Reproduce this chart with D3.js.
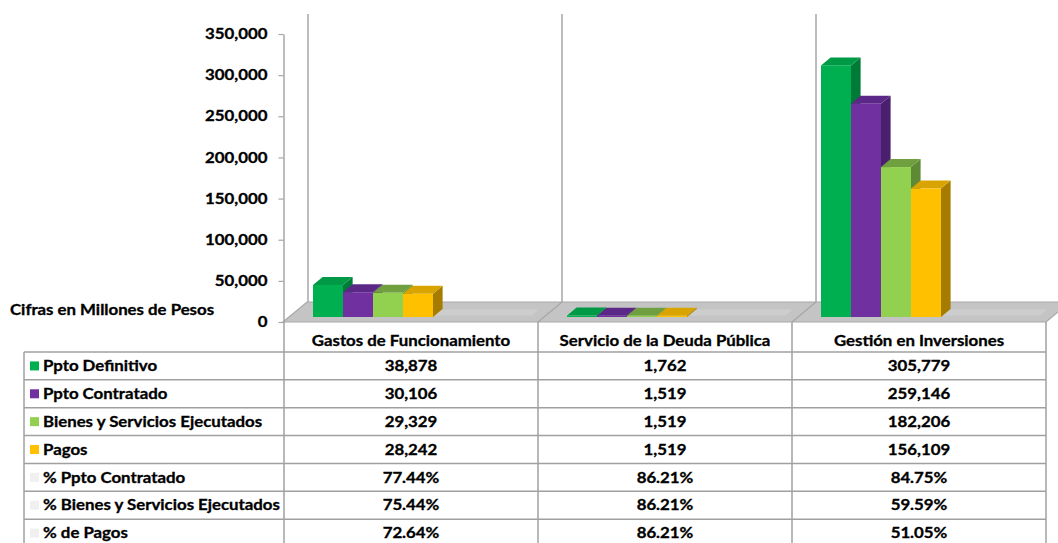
<!DOCTYPE html>
<html>
<head>
<meta charset="utf-8">
<script src="https://cdn.jsdelivr.net/npm/d3@7"></script>
<style>
  html, body { margin: 0; padding: 0; background: #ffffff; }
  svg { display: block; }
  text { font-family: Lato, "Open Sans", sans-serif; font-weight: bold; fill: #000; stroke: #000; stroke-width: 0.3px; }
</style>
</head>
<body>
<svg id="chart" width="1058" height="543"></svg>
<script>
// Categories and series
const categories = ["Gastos de Funcionamiento", "Servicio de la Deuda Pública", "Gestión en Inversiones"];
const seriesNames = ["Ppto Definitivo", "Ppto Contratado", "Bienes y Servicios Ejecutados", "Pagos"];
const pptoDefinitivo = [38878, 1762, 305779];
const pptoContratado = [30106, 1519, 259146];
const bienesEjecutados = [29329, 1519, 182206];
const pagos = [28242, 1519, 156109];
const pctNames = ["% Ppto Contratado", "% Bienes y Servicios Ejecutados", "% de Pagos"];
const pctContratado = [77.44, 86.21, 84.75];
const pctEjecutados = [75.44, 86.21, 59.59];
const pctPagos = [72.64, 86.21, 51.05];
const yTicks = [0, 50000, 100000, 150000, 200000, 250000, 300000, 350000];
const axisTitle = "Cifras en Millones de Pesos";

const seriesValues = [pptoDefinitivo, pptoContratado, bienesEjecutados, pagos];
const pctValues = [pctContratado, pctEjecutados, pctPagos];

// Face colours per series: front, top, side
const palette = [
  { front: "#00b050", top: "#009a46", side: "#007a37" },
  { front: "#7030a0", top: "#5c2888", side: "#4a1f6e" },
  { front: "#92d050", top: "#6f9f3f", side: "#5e8a36" },
  { front: "#ffc000", top: "#d9a400", side: "#a57c00" }
];

const SX = 1.16;            // horizontal text stretch
const FS = "14.5px";
const DX = 24, DY = 20;     // depth projection of the 3D box
const D0 = 0.25, D1 = 0.65; // bar depth span inside the box

const svg = d3.select("#chart");

const x = d3.scaleBand().domain(categories).range([284, 1046]).paddingInner(0).paddingOuter(0);
const xs = d3.scaleBand().domain(seriesNames).range([23, 143]);
const y = d3.scaleLinear().domain([0, 350000]).range([322, 34]);

const proj = (px, v, d) => [px + DX * d, y(v) - DY * d];
const poly = pts => pts.map(p => p.join(",")).join(" ");

function label(parent, px, py, str, anchor) {
  return parent.append("text")
    .attr("transform", `translate(${px},${py}) scale(${SX},1)`)
    .attr("text-anchor", anchor)
    .attr("dy", "0.36em")
    .style("font-size", FS)
    .text(str);
}

const gridColor = "#a6a6a6";
const x0 = x.range()[0], x1 = x.range()[1];

// Back wall category lines
const backLines = categories.map(c => x(c)).concat([x1]);
svg.append("g").selectAll("line").data(backLines).join("line")
  .attr("x1", d => proj(d, 0, 1)[0]).attr("x2", d => proj(d, 0, 1)[0])
  .attr("y1", proj(0, 350000, 1)[1]).attr("y2", proj(0, 0, 1)[1])
  .attr("stroke", gridColor).attr("stroke-width", 1.5);

// Floor slab
const floor = svg.append("g");
floor.append("polygon")
  .attr("points", poly([proj(x0 - 1, 0, 0), proj(x1, 0, 0), proj(x1, 0, 1), proj(x0 - 1, 0, 1)]))
  .attr("fill", "#c4c4c4").attr("stroke", "#a8a8a8").attr("stroke-width", 1.2);
floor.selectAll("polygon.strip").data(categories).join("polygon")
  .attr("class", "strip")
  .attr("points", c => poly([
    proj(x(c) + 20, 0, 0.32), proj(x(c) + 240, 0, 0.32),
    proj(x(c) + 240, 0, 0.62), proj(x(c) + 20, 0, 0.62)]))
  .attr("fill", "#cdcdcd");
floor.selectAll("line.div").data(categories.slice(1)).join("line")
  .attr("class", "div")
  .attr("x1", c => proj(x(c), 0, 0)[0]).attr("y1", c => proj(x(c), 0, 0)[1])
  .attr("x2", c => proj(x(c), 0, 1)[0]).attr("y2", c => proj(x(c), 0, 1)[1])
  .attr("stroke", gridColor).attr("stroke-width", 1.2);

// Bars, left to right so each front face covers the previous side face
const bars = svg.append("g");
categories.forEach((c, ci) => {
  seriesNames.forEach((s, si) => {
    const v = seriesValues[si][ci];
    const left = x(c) + xs(s), right = left + xs.bandwidth();
    const col = palette[si];
    const g = bars.append("g");
    g.append("polygon")
      .attr("points", poly([proj(right, 0, D0), proj(right, 0, D1), proj(right, v, D1), proj(right, v, D0)]))
      .attr("fill", col.side);
    g.append("polygon")
      .attr("points", poly([proj(left, v, D0), proj(right, v, D0), proj(right, v, D1), proj(left, v, D1)]))
      .attr("fill", col.top);
    const f0 = proj(left, v, D0), f1 = proj(right, 0, D0);
    g.append("rect")
      .attr("x", f0[0]).attr("y", f0[1])
      .attr("width", f1[0] - f0[0]).attr("height", f1[1] - f0[1])
      .attr("fill", col.front);
  });
});

// Value axis
const axis = svg.append("g")
  .attr("transform", `translate(${x0 - 0.5},0)`)
  .call(d3.axisLeft(y).tickValues(yTicks).tickFormat(d3.format(",")).tickSize(5).tickSizeOuter(0));
axis.select(".domain").attr("stroke", gridColor).attr("stroke-width", 1.5);
axis.selectAll(".tick line").attr("stroke", gridColor).attr("stroke-width", 1.2);
axis.selectAll(".tick text")
  .attr("x", -16 / SX)
  .attr("transform", `scale(${SX},1)`)
  .style("font-size", FS)
  .style("font-family", "Lato, sans-serif")
  .style("font-weight", "bold")
  .attr("fill", "#000");

label(svg, 10, 310, axisTitle, "start");

// Data table
const rowNames = seriesNames.concat(pctNames);
const rowY = d3.scaleBand().domain(rowNames).range([352, 547]);
const table = svg.append("g");
const tColor = "#a0a0a0";

// header labels
categories.forEach(c => label(table, x(c) + x.bandwidth() / 2, 341, c, "middle"));

// horizontal rules
const hRules = rowNames.map(r => rowY(r)).concat([rowY.range()[1]]);
table.selectAll("line.h").data(hRules).join("line")
  .attr("class", "h")
  .attr("x1", 24).attr("x2", x1).attr("y1", d => d).attr("y2", d => d)
  .attr("stroke", tColor).attr("stroke-width", 1.5);
// vertical rules
table.append("line").attr("x1", 24).attr("x2", 24).attr("y1", 352).attr("y2", 547)
  .attr("stroke", tColor).attr("stroke-width", 1.5);
table.selectAll("line.v").data(categories.map(c => x(c)).concat([x1])).join("line")
  .attr("class", "v")
  .attr("x1", d => d).attr("x2", d => d).attr("y1", 322).attr("y2", 547)
  .attr("stroke", tColor).attr("stroke-width", 1.5);

// row labels with legend keys
rowNames.forEach((r, ri) => {
  const cy = rowY(r) + rowY.bandwidth() / 2;
  table.append("rect")
    .attr("x", 30).attr("y", cy - 4.5).attr("width", 9).attr("height", 9)
    .attr("fill", ri < 4 ? palette[ri].front : "#f0f0f0");
  label(table, 43, cy, r, "start");
  const vals = ri < 4 ? seriesValues[ri] : pctValues[ri - 4];
  const fmt = ri < 4 ? d3.format(",") : (v => d3.format(".2f")(v) + "%");
  categories.forEach((c, ci) => {
    label(table, x(c) + x.bandwidth() / 2, cy, fmt(vals[ci]), "middle");
  });
});
</script>
</body>
</html>
